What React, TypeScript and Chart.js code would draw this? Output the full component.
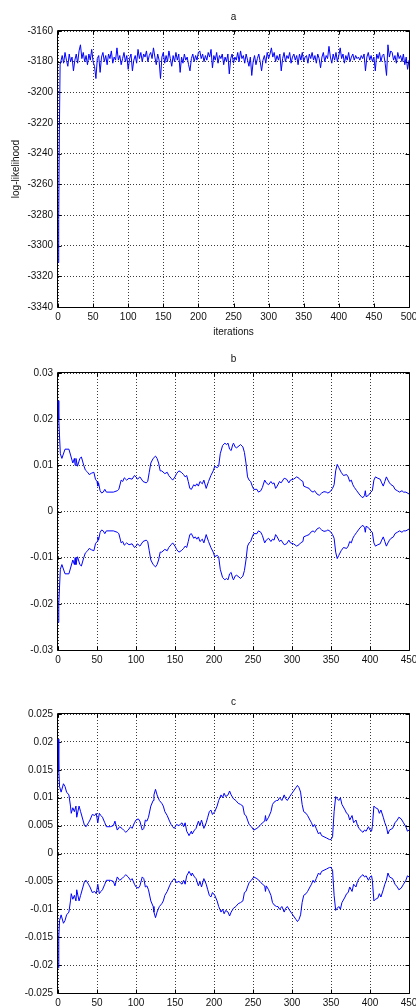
import React, { useEffect, useRef } from 'react';
import { Chart, registerables } from 'chart.js';

Chart.register(...registerables);

const FONT = '"Liberation Sans", Arial, Helvetica, sans-serif';
const LINE_BLUE = '#0000ff';
const TEXT_COLOR = '#111111';
const GRID_COLOR = '#3a3a3a';

// ---------- Panel a: log-likelihood trace ----------
const aTitle = 'a';
const aXLabel = 'iterations';
const aYLabel = 'log-likelihood';
const aXTicks = [0, 50, 100, 150, 200, 250, 300, 350, 400, 450, 500];
const aYTicks = [-3340, -3320, -3300, -3280, -3260, -3240, -3220, -3200, -3180, -3160];
const aIterations = [0, 1, 2, 3, ...Array.from({ length: 249 }, (_, i) => 4 + 2 * i)];
const aLogLik = [
  -3311, -3283, -3224, -3182,
  -3182, -3176, -3181, -3174, -3179, -3183, -3175, -3180, -3177, -3186,
  -3179, -3175, -3181, -3173, -3169, -3178, -3174, -3180, -3176, -3182,
  -3175, -3179, -3172, -3180, -3183, -3191, -3178, -3176, -3187, -3177,
  -3174, -3180, -3176, -3182, -3175, -3178, -3173, -3181, -3177, -3179,
  -3171, -3179, -3176, -3182, -3178, -3174, -3180, -3176, -3185, -3178,
  -3175, -3186, -3179, -3176, -3181, -3172, -3178, -3174, -3180, -3175,
  -3177, -3173, -3180, -3176, -3174, -3178, -3171, -3177, -3182, -3175,
  -3179, -3191, -3177, -3174, -3181, -3176, -3180, -3173, -3178, -3183,
  -3176, -3180, -3174, -3179, -3175, -3187, -3177, -3181, -3175, -3179,
  -3177, -3182, -3186, -3178, -3175, -3180, -3176, -3179, -3174, -3173,
  -3178, -3175, -3180, -3176, -3179, -3174, -3177, -3172, -3184, -3176,
  -3179, -3174, -3181, -3176, -3178, -3175, -3182, -3177, -3180, -3175,
  -3188, -3178, -3175, -3181, -3177, -3179, -3174, -3180, -3173, -3178,
  -3176, -3181, -3175, -3179, -3183, -3177, -3189, -3180, -3176, -3182,
  -3178, -3175, -3180, -3186, -3179, -3176, -3181, -3174, -3178, -3175,
  -3171, -3177, -3174, -3180, -3176, -3179, -3175, -3186, -3178, -3174,
  -3180, -3176, -3178, -3174, -3181, -3177, -3175, -3179, -3176, -3182,
  -3175, -3179, -3174, -3180, -3177, -3176, -3181, -3175, -3178, -3174,
  -3179, -3176, -3181, -3175, -3178, -3184, -3177, -3174, -3180, -3176,
  -3178, -3170, -3177, -3181, -3175, -3179, -3174, -3180, -3176, -3171,
  -3178, -3175, -3181, -3176, -3179, -3174, -3180, -3177, -3175, -3179,
  -3176, -3178, -3177, -3179, -3176, -3178, -3175, -3186, -3177, -3174,
  -3179, -3176, -3180, -3177, -3186, -3175, -3178, -3174, -3180, -3176,
  -3175, -3181, -3189, -3169, -3177, -3173, -3174, -3179, -3176, -3181,
  -3174, -3178, -3176, -3180, -3175, -3182, -3177, -3185, -3179,
];

// ---------- Panel b ----------
const bTitle = 'b';
const bXTicks = [0, 50, 100, 150, 200, 250, 300, 350, 400, 450];
const bYTicks = [-0.03, -0.02, -0.01, 0, 0.01, 0.02, 0.03];
const bIterations = [
  0, 1, 3, 5, 9, 14, 19, 21, 22, 23,
  25, 28, 30, 33, 35, 38, 40, 43, 46, 48,
  50, 51, 52, 54, 56, 58, 60, 62, 71, 76,
  78, 81, 83, 85, 88, 91, 95, 98, 100, 102,
  105, 109, 113, 115, 117, 119, 122, 125, 127, 129,
  131, 133, 137, 140, 142, 145, 147, 150, 152, 155,
  158, 161, 163, 165, 167, 169, 171, 174, 176, 178,
  180, 182, 185, 187, 190, 193, 196, 199, 201, 204,
  206, 208, 211, 214, 216, 218, 220, 222, 224, 225,
  227, 229, 232, 234, 237, 239, 241, 243, 245, 247,
  249, 251, 255, 257, 260, 262, 265, 267, 270, 273,
  275, 277, 279, 281, 284, 286, 290, 293, 296, 298,
  302, 306, 309, 311, 314, 315, 319, 322, 324, 327,
  329, 332, 335, 338, 341, 344, 346, 349, 352, 354,
  356, 358, 360, 363, 366, 370, 372, 374, 376, 378,
  380, 383, 386, 389, 391, 393, 394, 395, 398, 401,
  403, 405, 407, 410, 413, 415, 417, 419, 421, 423,
  425, 427, 430, 432, 435, 438, 441, 443, 446, 450,
];
const bUpper = [
  0.024, 0.020, 0.0125, 0.0115, 0.0135, 0.0135, 0.0105, 0.0115, 0.0100, 0.0115,
  0.0098, 0.0115, 0.0118, 0.0100, 0.0090, 0.0085, 0.0080, 0.0083, 0.0085, 0.0070,
  0.0065, 0.0055, 0.0062, 0.0045, 0.0040, 0.0042, 0.0048, 0.0042, 0.0042, 0.0045,
  0.0048, 0.0068, 0.0065, 0.0073, 0.0068, 0.0072, 0.0070, 0.0078, 0.0075, 0.0070,
  0.0075, 0.0065, 0.0062, 0.0065, 0.0085, 0.0105, 0.0115, 0.0120, 0.0115, 0.0105,
  0.0088, 0.0088, 0.0082, 0.0085, 0.0078, 0.0072, 0.0068, 0.0075, 0.0082, 0.0088,
  0.0085, 0.0080, 0.0075, 0.0078, 0.0065, 0.0050, 0.0048, 0.0058, 0.0055, 0.0060,
  0.0055, 0.0065, 0.0060, 0.0068, 0.0050, 0.0065, 0.0078, 0.0088, 0.0098, 0.0095,
  0.0098, 0.0125, 0.0143, 0.0148, 0.0145, 0.0148, 0.0135, 0.0132, 0.0145, 0.0148,
  0.0140, 0.0138, 0.0142, 0.0145, 0.0140, 0.0128, 0.0105, 0.0075, 0.0068, 0.0065,
  0.0055, 0.0048, 0.0048, 0.0042, 0.0045, 0.0052, 0.0068, 0.0062, 0.0058, 0.0065,
  0.0060, 0.0062, 0.0050, 0.0055, 0.0065, 0.0062, 0.0072, 0.0070, 0.0062, 0.0068,
  0.0070, 0.0075, 0.0072, 0.0068, 0.0065, 0.0055, 0.0052, 0.0050, 0.0045, 0.0042,
  0.0045, 0.0038, 0.0035, 0.0040, 0.0043, 0.0042, 0.0040, 0.0043, 0.0050, 0.0058,
  0.0088, 0.0102, 0.0095, 0.0085, 0.0078, 0.0080, 0.0075, 0.0065, 0.0068, 0.0058,
  0.0052, 0.0045, 0.0038, 0.0032, 0.0030, 0.0035, 0.0045, 0.0032, 0.0035, 0.0042,
  0.0045, 0.0068, 0.0075, 0.0072, 0.0070, 0.0062, 0.0055, 0.0065, 0.0075, 0.0068,
  0.0062, 0.0058, 0.0055, 0.0048, 0.0045, 0.0042, 0.0045, 0.0042, 0.0042, 0.0038,
];
const bLower = [
  -0.024, -0.020, -0.0125, -0.0115, -0.0135, -0.0135, -0.0105, -0.0115, -0.0100, -0.0115,
  -0.0098, -0.0115, -0.0118, -0.0100, -0.0090, -0.0085, -0.0080, -0.0083, -0.0085, -0.0070,
  -0.0065, -0.0055, -0.0062, -0.0045, -0.0040, -0.0042, -0.0048, -0.0042, -0.0042, -0.0045,
  -0.0048, -0.0068, -0.0065, -0.0073, -0.0068, -0.0072, -0.0070, -0.0078, -0.0075, -0.0070,
  -0.0075, -0.0065, -0.0062, -0.0065, -0.0085, -0.0105, -0.0115, -0.0120, -0.0115, -0.0105,
  -0.0088, -0.0088, -0.0082, -0.0085, -0.0078, -0.0072, -0.0068, -0.0075, -0.0082, -0.0088,
  -0.0085, -0.0080, -0.0075, -0.0078, -0.0065, -0.0050, -0.0048, -0.0058, -0.0055, -0.0060,
  -0.0055, -0.0065, -0.0060, -0.0068, -0.0050, -0.0065, -0.0078, -0.0088, -0.0098, -0.0095,
  -0.0098, -0.0125, -0.0143, -0.0148, -0.0145, -0.0148, -0.0135, -0.0132, -0.0145, -0.0148,
  -0.0140, -0.0138, -0.0142, -0.0145, -0.0140, -0.0128, -0.0105, -0.0075, -0.0068, -0.0065,
  -0.0055, -0.0048, -0.0048, -0.0042, -0.0045, -0.0052, -0.0068, -0.0062, -0.0058, -0.0065,
  -0.0060, -0.0062, -0.0050, -0.0055, -0.0065, -0.0062, -0.0072, -0.0070, -0.0062, -0.0068,
  -0.0070, -0.0075, -0.0072, -0.0068, -0.0065, -0.0055, -0.0052, -0.0050, -0.0045, -0.0042,
  -0.0045, -0.0038, -0.0035, -0.0040, -0.0043, -0.0042, -0.0040, -0.0043, -0.0050, -0.0058,
  -0.0088, -0.0102, -0.0095, -0.0085, -0.0078, -0.0080, -0.0075, -0.0065, -0.0068, -0.0058,
  -0.0052, -0.0045, -0.0038, -0.0032, -0.0030, -0.0035, -0.0045, -0.0032, -0.0035, -0.0042,
  -0.0045, -0.0068, -0.0075, -0.0072, -0.0070, -0.0062, -0.0055, -0.0065, -0.0075, -0.0068,
  -0.0062, -0.0058, -0.0055, -0.0048, -0.0045, -0.0042, -0.0045, -0.0042, -0.0042, -0.0038,
];

// ---------- Panel c ----------
const cTitle = 'c';
const cXTicks = [0, 50, 100, 150, 200, 250, 300, 350, 400, 450];
const cYTicks = [-0.025, -0.02, -0.015, -0.01, -0.005, 0, 0.005, 0.01, 0.015, 0.02, 0.025];
const cIterations = [
  0, 1, 2, 4, 7, 9, 11, 14, 16, 17,
  19, 21, 23, 24, 27, 29, 32, 34, 36, 39,
  41, 44, 47, 49, 51, 53, 55, 57, 60, 62,
  67, 71, 73, 76, 79, 82, 84, 87, 90, 93,
  95, 98, 100, 103, 105, 108, 110, 112, 114, 116,
  119, 122, 123, 125, 127, 130, 133, 135, 137, 140,
  143, 145, 147, 149, 152, 155, 159, 161, 163, 165,
  167, 168, 171, 172, 175, 177, 180, 182, 184, 187,
  190, 192, 194, 196, 198, 201, 204, 206, 209, 211,
  213, 215, 218, 220, 222, 225, 228, 231, 234, 237,
  239, 241, 243, 245, 248, 251, 255, 259, 262, 265,
  266, 267, 270, 273, 275, 277, 280, 282, 284, 287,
  290, 292, 294, 297, 300, 302, 305, 307, 309, 311,
  313, 315, 318, 320, 323, 325, 327, 329, 331, 334,
  336, 338, 341, 344, 348, 350, 352, 354, 356, 358,
  360, 362, 364, 368, 370, 372, 374, 377, 379, 382,
  384, 386, 389, 391, 393, 395, 398, 400, 402, 403,
  405, 407, 410, 412, 414, 417, 419, 421, 423, 425,
  429, 432, 435, 437, 440, 443, 446, 448, 450,
];
const cUpper = [
  0.0205, 0.0150, 0.0120, 0.0110, 0.0125, 0.0120, 0.0110, 0.0105, 0.0085, 0.0072,
  0.0082, 0.0075, 0.0085, 0.0065, 0.0085, 0.0075, 0.0060, 0.0050, 0.0048, 0.0055,
  0.0060, 0.0070, 0.0068, 0.0072, 0.0055, 0.0072, 0.0068, 0.0065, 0.0055, 0.0048,
  0.0048, 0.0050, 0.0058, 0.0042, 0.0048, 0.0045, 0.0042, 0.0038, 0.0042, 0.0048,
  0.0045, 0.0055, 0.0060, 0.0062, 0.0058, 0.0042, 0.0045, 0.0060, 0.0058, 0.0065,
  0.0085, 0.0095, 0.0105, 0.0115, 0.0105, 0.0095, 0.0090, 0.0085, 0.0075, 0.0068,
  0.0058, 0.0052, 0.0048, 0.0045, 0.0052, 0.0050, 0.0055, 0.0048, 0.0055, 0.0040,
  0.0035, 0.0032, 0.0040, 0.0035, 0.0042, 0.0045, 0.0058, 0.0050, 0.0060, 0.0045,
  0.0055, 0.0065, 0.0075, 0.0078, 0.0070, 0.0075, 0.0085, 0.0095, 0.0105, 0.0100,
  0.0108, 0.0102, 0.0105, 0.0112, 0.0105, 0.0098, 0.0095, 0.0090, 0.0088, 0.0085,
  0.0070, 0.0068, 0.0060, 0.0052, 0.0048, 0.0042, 0.0045, 0.0050, 0.0055, 0.0058,
  0.0068, 0.0058, 0.0065, 0.0075, 0.0088, 0.0092, 0.0095, 0.0095, 0.0100, 0.0095,
  0.0105, 0.0098, 0.0095, 0.0102, 0.0108, 0.0112, 0.0118, 0.0122, 0.0118, 0.0110,
  0.0088, 0.0075, 0.0072, 0.0068, 0.0060, 0.0055, 0.0048, 0.0052, 0.0045, 0.0035,
  0.0038, 0.0032, 0.0030, 0.0028, 0.0025, 0.0025, 0.0030, 0.0075, 0.0102, 0.0098,
  0.0095, 0.0100, 0.0088, 0.0078, 0.0072, 0.0070, 0.0060, 0.0068, 0.0055, 0.0060,
  0.0050, 0.0045, 0.0040, 0.0038, 0.0042, 0.0040, 0.0048, 0.0042, 0.0040, 0.0048,
  0.0085, 0.0082, 0.0080, 0.0072, 0.0078, 0.0065, 0.0055, 0.0048, 0.0035, 0.0042,
  0.0045, 0.0055, 0.0060, 0.0065, 0.0062, 0.0055, 0.0048, 0.0040, 0.0042,
];
const cLower = [
  -0.0205, -0.0150, -0.0120, -0.0110, -0.0125, -0.0120, -0.0110, -0.0105, -0.0085, -0.0072,
  -0.0082, -0.0075, -0.0085, -0.0065, -0.0085, -0.0075, -0.0060, -0.0050, -0.0048, -0.0055,
  -0.0060, -0.0070, -0.0068, -0.0072, -0.0055, -0.0072, -0.0068, -0.0065, -0.0055, -0.0048,
  -0.0048, -0.0050, -0.0058, -0.0042, -0.0048, -0.0045, -0.0042, -0.0038, -0.0042, -0.0048,
  -0.0045, -0.0055, -0.0060, -0.0062, -0.0058, -0.0042, -0.0045, -0.0060, -0.0058, -0.0065,
  -0.0085, -0.0095, -0.0105, -0.0115, -0.0105, -0.0095, -0.0090, -0.0085, -0.0075, -0.0068,
  -0.0058, -0.0052, -0.0048, -0.0045, -0.0052, -0.0050, -0.0055, -0.0048, -0.0055, -0.0040,
  -0.0035, -0.0032, -0.0040, -0.0035, -0.0042, -0.0045, -0.0058, -0.0050, -0.0060, -0.0045,
  -0.0055, -0.0065, -0.0075, -0.0078, -0.0070, -0.0075, -0.0085, -0.0095, -0.0105, -0.0100,
  -0.0108, -0.0102, -0.0105, -0.0112, -0.0105, -0.0098, -0.0095, -0.0090, -0.0088, -0.0085,
  -0.0070, -0.0068, -0.0060, -0.0052, -0.0048, -0.0042, -0.0045, -0.0050, -0.0055, -0.0058,
  -0.0068, -0.0058, -0.0065, -0.0075, -0.0088, -0.0092, -0.0095, -0.0095, -0.0100, -0.0095,
  -0.0105, -0.0098, -0.0095, -0.0102, -0.0108, -0.0112, -0.0118, -0.0122, -0.0118, -0.0110,
  -0.0088, -0.0075, -0.0072, -0.0068, -0.0060, -0.0055, -0.0048, -0.0052, -0.0045, -0.0035,
  -0.0038, -0.0032, -0.0030, -0.0028, -0.0025, -0.0025, -0.0030, -0.0075, -0.0102, -0.0098,
  -0.0095, -0.0100, -0.0088, -0.0078, -0.0072, -0.0070, -0.0060, -0.0068, -0.0055, -0.0060,
  -0.0050, -0.0045, -0.0040, -0.0038, -0.0042, -0.0040, -0.0048, -0.0042, -0.0040, -0.0048,
  -0.0085, -0.0082, -0.0080, -0.0072, -0.0078, -0.0065, -0.0055, -0.0048, -0.0035, -0.0042,
  -0.0045, -0.0055, -0.0060, -0.0065, -0.0062, -0.0055, -0.0048, -0.0040, -0.0042,
];

// ---------- Chart helpers ----------
const framePlugin = {
  id: 'matlabFrame',
  beforeDatasetsDraw(chart: any) {
    const { ctx, chartArea, scales } = chart;
    const l = Math.round(chartArea.left) - 0.5;
    const r = Math.round(chartArea.right) + 0.5;
    const t = Math.round(chartArea.top) - 0.5;
    const b = Math.round(chartArea.bottom) + 0.5;
    const tick = 4;
    ctx.save();
    ctx.strokeStyle = '#000';
    ctx.lineWidth = 1;
    ctx.setLineDash([]);
    ctx.beginPath();
    ctx.moveTo(l, t);
    ctx.lineTo(r, t);
    ctx.lineTo(r, b);
    ctx.lineTo(l, b);
    ctx.closePath();
    ctx.stroke();
    ctx.beginPath();
    for (const tk of scales.x.ticks) {
      const px = Math.round(scales.x.getPixelForValue(tk.value)) + 0.5;
      ctx.moveTo(px, b);
      ctx.lineTo(px, b - tick);
      ctx.moveTo(px, t);
      ctx.lineTo(px, t + tick);
    }
    for (const tk of scales.y.ticks) {
      const py = Math.round(scales.y.getPixelForValue(tk.value)) + 0.5;
      ctx.moveTo(l, py);
      ctx.lineTo(l + tick, py);
      ctx.moveTo(r, py);
      ctx.lineTo(r - tick, py);
    }
    ctx.stroke();
    ctx.restore();
  },
};

type Series = { x: number[]; y: number[] };

type PanelSpec = {
  title: string;
  titlePad: [number, number];
  xTicks: number[];
  yTicks: number[];
  xHeight: number;
  series: Series[];
  xLabel?: string;
  yLabel?: string;
};

function buildConfig(p: PanelSpec): any {
  const font = { family: FONT, size: 10, weight: 'normal' as const };
  return {
    type: 'line',
    data: {
      datasets: p.series.map((s) => ({
        data: s.x.map((x, i) => ({ x, y: s.y[i] })),
        borderColor: LINE_BLUE,
        borderWidth: 1,
        pointRadius: 0,
        tension: 0,
        fill: false,
        clip: 2,
      })),
    },
    options: {
      responsive: false,
      animation: false,
      devicePixelRatio: 1,
      layout: { padding: { left: 0, right: 7, top: 0, bottom: 0 } },
      plugins: {
        legend: { display: false },
        tooltip: { enabled: false },
        title: {
          display: true,
          fullSize: false,
          text: p.title,
          color: TEXT_COLOR,
          font,
          padding: { top: p.titlePad[0], bottom: p.titlePad[1] },
        },
      },
      scales: {
        x: {
          type: 'linear',
          min: p.xTicks[0],
          max: p.xTicks[p.xTicks.length - 1],
          afterBuildTicks: (scale: any) => {
            scale.ticks = p.xTicks.map((v) => ({ value: v }));
          },
          afterFit: (scale: any) => {
            scale.height = p.xHeight;
            scale.paddingLeft = 0;
            scale.paddingRight = 0;
          },
          ticks: {
            autoSkip: false,
            maxRotation: 0,
            padding: 4,
            color: TEXT_COLOR,
            font,
            callback: (v: any) => String(v),
          },
          grid: { color: GRID_COLOR, lineWidth: 1, drawTicks: false },
          border: { display: false, dash: [1, 2] },
          title: p.xLabel
            ? { display: true, text: p.xLabel, color: TEXT_COLOR, font, padding: { top: 0, bottom: 2 } }
            : { display: false },
        },
        y: {
          type: 'linear',
          min: p.yTicks[0],
          max: p.yTicks[p.yTicks.length - 1],
          afterBuildTicks: (scale: any) => {
            scale.ticks = p.yTicks.map((v) => ({ value: v }));
          },
          afterFit: (scale: any) => {
            scale.width = 58;
          },
          ticks: {
            autoSkip: false,
            padding: 5,
            color: TEXT_COLOR,
            font,
            callback: (v: any) => String(v),
          },
          grid: { color: GRID_COLOR, lineWidth: 1, drawTicks: false },
          border: { display: false, dash: [1, 2] },
          title: p.yLabel
            ? { display: true, text: p.yLabel, color: TEXT_COLOR, font, padding: { top: 10, bottom: 0 } }
            : { display: false },
        },
      },
    },
    plugins: [framePlugin],
  };
}

function Panel({ top, height, spec }: { top: number; height: number; spec: PanelSpec }) {
  const ref = useRef<HTMLCanvasElement>(null);
  useEffect(() => {
    if (!ref.current) return;
    const chart = new Chart(ref.current, buildConfig(spec));
    return () => chart.destroy();
  }, []);
  return (
    <canvas
      ref={ref}
      width={416}
      height={height}
      style={{ position: 'absolute', left: 0, top, width: 416, height, display: 'block' }}
    />
  );
}

const panelA: PanelSpec = {
  title: aTitle,
  titlePad: [11, 8],
  xTicks: aXTicks,
  yTicks: aYTicks,
  xHeight: 33,
  series: [{ x: aIterations, y: aLogLik }],
  xLabel: aXLabel,
  yLabel: aYLabel,
};

const panelB: PanelSpec = {
  title: bTitle,
  titlePad: [13, 8],
  xTicks: bXTicks,
  yTicks: bYTicks,
  xHeight: 20,
  series: [
    { x: bIterations, y: bUpper },
    { x: bIterations, y: bLower },
  ],
};

const panelC: PanelSpec = {
  title: cTitle,
  titlePad: [26, 6],
  xTicks: cXTicks,
  yTicks: cYTicks,
  xHeight: 15,
  series: [
    { x: cIterations, y: cUpper },
    { x: cIterations, y: cLower },
  ],
};

export default function App() {
  return (
    <div
      style={{
        position: 'absolute',
        left: 0,
        top: 0,
        width: 416,
        height: 1008,
        overflow: 'hidden',
        background: '#fff',
      }}
    >
      <Panel top={0} height={340} spec={panelA} />
      <Panel top={340} height={330} spec={panelB} />
      <Panel top={670} height={338} spec={panelC} />
    </div>
  );
}
